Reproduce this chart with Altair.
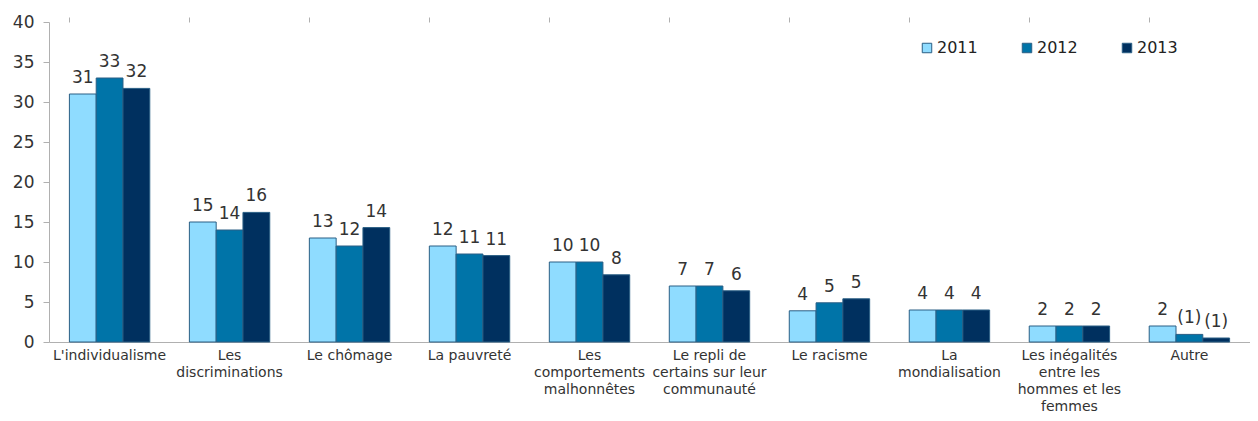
import altair as alt
import pandas as pd

categories = [
    "L'individualisme",
    "Les\ndiscriminations",
    "Le chômage",
    "La pauvreté",
    "Les\ncomportements\nmalhonnêtes",
    "Le repli de\ncertains sur leur\ncommunauté",
    "Le racisme",
    "La\nmondialisation",
    "Les inégalités\nentre les\nhommes et les\nfemmes",
    "Autre",
]
years = ["2011", "2012", "2013"]
values_2011 = [31, 15, 13, 12, 10, 7, 3.9, 4, 2, 2]
values_2012 = [33, 14, 12, 11, 10, 7, 4.9, 4, 2, 0.95]
values_2013 = [31.7, 16.2, 14.3, 10.8, 8.4, 6.4, 5.4, 4, 2, 0.5]
labels_2011 = ["31", "15", "13", "12", "10", "7", "4", "4", "2", "2"]
labels_2012 = ["33", "14", "12", "11", "10", "7", "5", "4", "2", "(1)"]
labels_2013 = ["32", "16", "14", "11", "8", "6", "5", "4", "2", "(1)"]
colors = ["#8fdcff", "#0074a8", "#00305f"]
y_ticks = [0, 5, 10, 15, 20, 25, 30, 35, 40]

rows = []
for yr, vals, labs in zip(years, [values_2011, values_2012, values_2013],
                          [labels_2011, labels_2012, labels_2013]):
    for c, v, l in zip(categories, vals, labs):
        rows.append({"cat": c, "year": yr, "value": v, "label": l})
df = pd.DataFrame(rows)

FONT = "DejaVu Sans"

x_scale = alt.Scale(domain=categories, paddingInner=0.33, paddingOuter=0.17)

base = alt.Chart(df).encode(
    xOffset=alt.XOffset("year:N", sort=years, scale=alt.Scale(padding=0)),
    y=alt.Y("value:Q", scale=alt.Scale(domain=[0, 40], nice=False),
            axis=alt.Axis(values=y_ticks, title=None, grid=False,
                          domainColor="#b0b0b0", tickColor="#b0b0b0",
                          tickSize=6, labelFontSize=17, labelColor="#333333",
                          labelFont=FONT, labelPadding=9)),
)

bars = base.mark_bar(stroke="#2a5f85", strokeWidth=1).encode(
    x=alt.X("cat:N", sort=categories, scale=x_scale,
            axis=alt.Axis(title=None, labelAngle=0, ticks=False,
                          domainColor="#b0b0b0",
                          labelExpr="split(datum.value, '\\n')",
                          labelFontSize=14, labelColor="#333333",
                          labelFont=FONT, labelPadding=6,
                          labelLineHeight=17, labelLimit=200)),
    color=alt.Color("year:N", sort=years,
                    scale=alt.Scale(domain=years, range=colors),
                    legend=alt.Legend(title=None, orient="none",
                                      direction="horizontal",
                                      legendX=870, legendY=18,
                                      symbolType="square", symbolSize=90,
                                      symbolStrokeColor="#2a5f85",
                                      symbolStrokeWidth=1,
                                      labelFontSize=16, labelFont=FONT,
                                      labelColor="#222222",
                                      labelOffset=2, columnPadding=41)),
)

ticks_layer = base.mark_bar(opacity=0).encode(
    x=alt.X("cat:N", sort=categories, scale=x_scale,
            axis=alt.Axis(title=None, labels=False, domain=False,
                          ticks=True, bandPosition=0, tickSize=5,
                          tickColor="#b0b0b0")),
)

text = base.mark_text(dy=-16, fontSize=17, font=FONT, color="#333333").encode(
    x=alt.X("cat:N", sort=categories, scale=x_scale, axis=None),
    text="label:N",
)

chart = alt.layer(bars, ticks_layer, text).resolve_axis(x="independent").properties(
    width=1201, height=320,
    padding={"left": 41, "top": 14, "right": 0, "bottom": 71},
    autosize=alt.AutoSizeParams(type="none"),
).configure_view(stroke=None)

chart.save("out.html", embed_options={"renderer": "svg", "actions": False})
